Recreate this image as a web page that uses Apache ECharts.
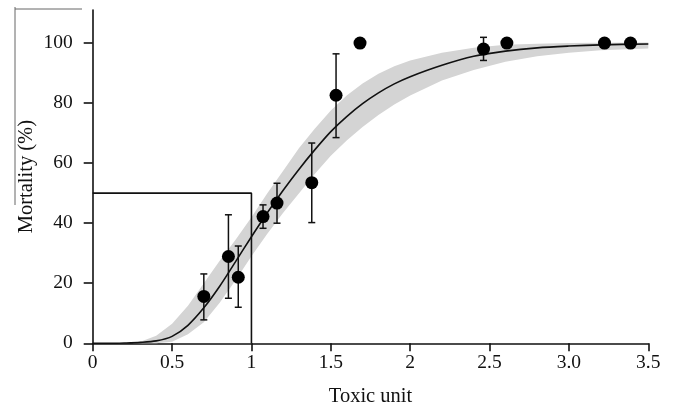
<!DOCTYPE html>
<html>
<head>
<meta charset="utf-8">
<script src="https://cdn.jsdelivr.net/npm/echarts@6/dist/echarts.min.js"></script>
<style>
  html, body { margin: 0; padding: 0; background: #fff; }
  #chart { width: 675px; height: 409px; }
</style>
</head>
<body>
<div id="chart"></div>
<script>
// observed mortality with error bars (null = no bar)
const doseX = [0.70, 0.855, 0.917, 1.073, 1.161, 1.38, 1.533, 1.684, 2.462, 2.609, 3.224, 3.388];
const mortality = [15.6, 28.9, 22, 42.2, 46.7, 53.5, 82.6, 100, 98, 100, 100, 100];
const errLow = [7.8, 15, 12, 38.3, 40, 40.2, 68.5, null, 94.2, null, null, null];
const errHigh = [23.1, 42.8, 32.4, 46.1, 53.3, 66.7, 96.4, null, 101.9, null, null, null];

// fitted dose-response curve
const curveX = [0, 0.1, 0.2, 0.3, 0.4, 0.5, 0.6, 0.7, 0.8, 0.9, 1.0, 1.1, 1.2, 1.3, 1.4, 1.5, 1.6, 1.7, 1.8, 1.9, 2.0, 2.2, 2.4, 2.6, 2.8, 3.0, 3.2, 3.5];
const curveY = [0, 0, 0.1, 0.3, 0.8, 2.3, 6, 11.8, 19, 27.2, 35.5, 43.5, 51, 58, 64.5, 70.5, 75.5, 79.8, 83.4, 86.4, 88.8, 92.6, 95.6, 97.3, 98.4, 99, 99.4, 99.7];

// confidence band
const bandX = [0.25, 0.3, 0.4, 0.5, 0.6, 0.7, 0.8, 0.9, 1.0, 1.1, 1.2, 1.3, 1.4, 1.5, 1.6, 1.7, 1.8, 1.9, 2.0, 2.2, 2.4, 2.6, 2.8, 3.0, 3.2, 3.5];
const bandUpper = [0, 0.5, 2.5, 6.5, 12.5, 20, 27.5, 34.5, 42, 50, 57.5, 65, 71.5, 77.5, 82.5, 86.5, 89.8, 92.3, 94.2, 96.8, 98.4, 99.4, 99.8, 100, 100.1, 100.2];
const bandLower = [0, 0, 0, 0.5, 3, 7, 13.5, 21, 29, 36.5, 43.5, 50, 56.5, 62.5, 67.5, 72, 76, 79.5, 82.5, 87.5, 91, 93.8, 95.6, 96.8, 97.6, 98.2];

// 50% mortality guide
const guideX = [0, 1, 1];
const guideY = [50, 50, 0];

const xTickLabels = ['0', '0.5', '1', '1.5', '2', '2.5', '3.0', '3.5'];
const yTicks = [0, 20, 40, 60, 80, 100];

const font = 'Liberation Serif, Times New Roman, serif';
const ink = '#111';

const chart = echarts.init(document.getElementById('chart'));

const option = {
  animation: false,
  grid: { left: 92.7, right: 26.7, top: 10, bottom: 65.7, outerBoundsMode: 'none' },
  xAxis: {
    type: 'value',
    min: 0,
    max: 3.5,
    interval: 0.5,
    name: 'Toxic unit',
    nameLocation: 'middle',
    nameGap: 43,
    nameMoveOverlap: false,
    nameTextStyle: { fontFamily: font, fontSize: 20.5, color: ink },
    axisLine: { show: true, lineStyle: { color: ink, width: 1.6 } },
    axisTick: { show: true, length: 8, lineStyle: { color: ink, width: 1.6 } },
    axisLabel: {
      fontFamily: font, fontSize: 19.5, color: ink, margin: 10,
      formatter: (v) => xTickLabels[Math.round(v / 0.5)]
    },
    splitLine: { show: false }
  },
  yAxis: {
    type: 'value',
    min: 0,
    max: 111,
    name: 'Mortality (%)',
    nameLocation: 'middle',
    nameGap: 56,
    nameMoveOverlap: false,
    nameTextStyle: { fontFamily: font, fontSize: 20.5, color: ink },
    axisLine: { show: true, lineStyle: { color: ink, width: 1.6 } },
    axisTick: { show: true, length: 9, customValues: yTicks, lineStyle: { color: ink, width: 1.6 } },
    axisLabel: { fontFamily: font, fontSize: 19.5, color: ink, margin: 20, customValues: yTicks },
    splitLine: { show: false }
  },
  series: [
    {
      // grey band drawn as one polygon through the axis scales
      type: 'custom',
      silent: true,
      z: 1,
      data: [[0, 0]],
      renderItem: (params, api) => {
        const top = bandX.map((x, i) => api.coord([x, bandUpper[i]]));
        const bottom = bandX.map((x, i) => api.coord([x, bandLower[i]])).reverse();
        return {
          type: 'polygon',
          shape: { points: top.concat(bottom) },
          style: { fill: '#d4d4d4' }
        };
      }
    },
    {
      type: 'line',
      data: guideX.map((x, i) => [x, guideY[i]]),
      symbol: 'none',
      lineStyle: { color: ink, width: 1.6 },
      z: 3
    },
    {
      type: 'line',
      data: curveX.map((x, i) => [x, curveY[i]]),
      smooth: 0.3,
      symbol: 'none',
      lineStyle: { color: ink, width: 1.6 },
      z: 4
    },
    {
      type: 'custom',
      z: 5,
      encode: { x: 0, y: [1, 2] },
      data: doseX.map((x, i) => [x, errLow[i], errHigh[i]]).filter((d) => d[1] !== null),
      renderItem: (params, api) => {
        const lo = api.coord([api.value(0), api.value(1)]);
        const hi = api.coord([api.value(0), api.value(2)]);
        const w = 3.5;
        const st = { stroke: ink, lineWidth: 1.5 };
        return {
          type: 'group',
          children: [
            { type: 'line', shape: { x1: lo[0], y1: lo[1], x2: hi[0], y2: hi[1] }, style: st },
            { type: 'line', shape: { x1: lo[0] - w, y1: lo[1], x2: lo[0] + w, y2: lo[1] }, style: st },
            { type: 'line', shape: { x1: hi[0] - w, y1: hi[1], x2: hi[0] + w, y2: hi[1] }, style: st }
          ]
        };
      }
    },
    {
      type: 'scatter',
      data: doseX.map((x, i) => [x, mortality[i]]),
      symbol: 'circle',
      symbolSize: 13,
      itemStyle: { color: '#000', opacity: 1 },
      z: 6
    }
  ],
  graphic: [
    // thin scan-edge lines at the top left of the original
    { type: 'line', shape: { x1: 15, y1: 9, x2: 82, y2: 9 }, style: { stroke: '#666', lineWidth: 1 } },
    { type: 'line', shape: { x1: 15, y1: 7, x2: 15, y2: 205 }, style: { stroke: '#666', lineWidth: 1 } }
  ]
};

chart.setOption(option);
</script>
</body>
</html>
